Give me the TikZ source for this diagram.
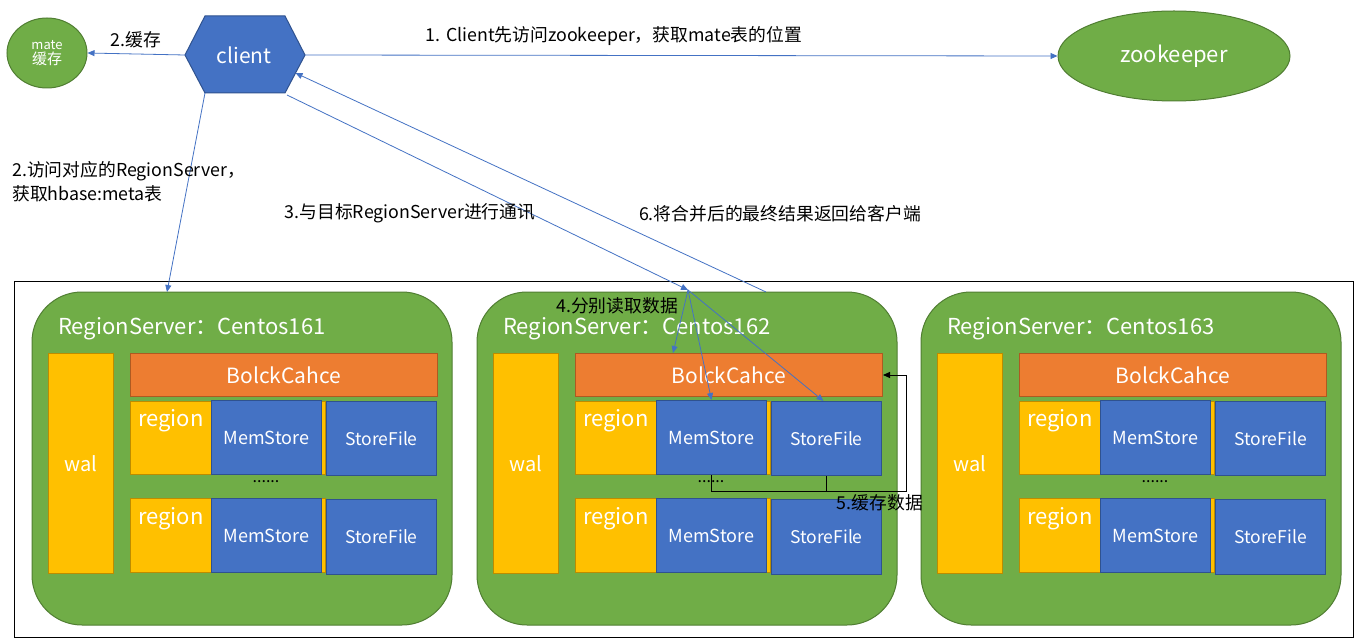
\documentclass[tikz,border=0pt]{standalone}
\usepackage{fontspec}
\setmainfont{Noto Sans CJK SC}
\usetikzlibrary{arrows.meta,shapes.geometric,calc}
\definecolor{gfill}{HTML}{70AD47}
\definecolor{gline}{HTML}{507E32}
\definecolor{ofill}{HTML}{ED7D31}
\definecolor{oline}{HTML}{AE5A21}
\definecolor{bfill}{HTML}{4472C4}
\definecolor{bline}{HTML}{2F528F}
\definecolor{yfill}{HTML}{FFC000}
\definecolor{yline}{HTML}{BC8C00}
\begin{document}
\begin{tikzpicture}[x=1pt,y=-1pt,
  fs/.style={font=\fontsize{#1}{#1}\selectfont},
  lbl/.style={fs=17.8,text=black,inner sep=0pt},
  wtxt/.style={text=white,inner sep=0pt},
  arr/.style={draw=bfill,line width=0.8pt,-{Triangle[length=7pt,width=6pt]}},
  blk/.style={draw=black,line width=1pt},
  gbox/.style={draw=gline,fill=gfill,line width=1pt,rounded corners=50pt},
  obox/.style={draw=oline,fill=ofill,line width=1pt,anchor=north west,inner sep=0pt},
  bbox/.style={draw=bline,fill=bfill,line width=1pt,anchor=north west,inner sep=0pt},
  ybox/.style={draw=yline,fill=yfill,line width=1pt,anchor=north west,inner sep=0pt},
]
\useasboundingbox (0,0) rectangle (1354,639);
\fill[white] (0,0) rectangle (1354,639);
% outer frame
\draw[line width=1pt] (14,281) rectangle (1353,637);
% mate
\node[ellipse,draw=gline,fill=gfill,line width=1pt,minimum width=80pt,minimum height=70pt,wtxt,align=center,fs=13] (mate) at (47,53) {mate\\[2pt]{\fontsize{15}{15}\selectfont 缓存}};
% zookeeper
\node[ellipse,draw=gline,fill=gfill,line width=1pt,minimum width=232pt,minimum height=90pt,wtxt,fs=22] (zk) at (1174,56) {zookeeper};
% client hexagon
\coordinate (cL) at (185,55);
\coordinate (cTL) at (205,16);
\coordinate (cTR) at (285,16);
\coordinate (cR) at (305,55);
\coordinate (cBR) at (285,93);
\coordinate (cBL) at (205,93);
\draw[draw=bline,fill=bfill,line width=1pt] (cL) -- (cTL) -- (cTR) -- (cR) -- (cBR) -- (cBL) -- cycle;
\node[wtxt,fs=21] (client) at (244,55) {client};
% region servers
\foreach \i/\dx in {1/0,2/445,3/889}{
\begin{scope}[xshift=\dx pt]
  \draw[gbox] (32,292) rectangle (452,625);
  \node[wtxt,fs=22,anchor=west] (title\i) at (58,329) {RegionServer：Centos16\i};
  \node[ybox,minimum width=65pt,minimum height=220pt] (wal\i) at (48,353) {};
  \node[wtxt,fs=20] at (wal\i.center) {wal};
  \node[obox,minimum width=307pt,minimum height=43pt,wtxt,fs=21] (bc\i) at (130,353) {BolckCahce};
  \node[ybox,minimum width=195pt,minimum height=73pt] (ra\i) at (130,401) {};
  \node[wtxt,fs=22] at (171,421) {region};
  \node[bbox,minimum width=110pt,minimum height=74pt,wtxt,fs=18] (ma\i) at (211,400) {MemStore};
  \node[bbox,minimum width=110pt,minimum height=74pt,wtxt,fs=17.5] (sa\i) at (326,401) {StoreFile};
  \node[fs=16,inner sep=0pt] (dots\i) at (266,482) {......};
  \node[ybox,minimum width=195pt,minimum height=74pt] (rb\i) at (130,498) {};
  \node[wtxt,fs=22] at (171,519) {region};
  \node[bbox,minimum width=110pt,minimum height=74pt,wtxt,fs=18] (mb\i) at (211,498) {MemStore};
  \node[bbox,minimum width=110pt,minimum height=75pt,wtxt,fs=17.5] (sb\i) at (326,499) {StoreFile};
\end{scope}
}
% connectors
\draw[arr] (cL) -- (mate.east);
\node[lbl] (l2a) at (136,40) {2.缓存};
\draw[arr] (cR) -- (zk.west);
\node[lbl] (l1) at (614,36) {1. Client先访问zookeeper，获取mate表的位置};
\coordinate (rs1top) at (167,292);
\draw[arr] (cBL) -- (rs1top);
\node[lbl,anchor=north west,align=left] (l2b) at (12,161) {2.访问对应的RegionServer，\\[4pt]获取hbase:meta表};
\coordinate (cout) at (287,95);
\coordinate (hub) at (688,290);
\draw[arr] (cout) -- (hub);
\node[lbl] (l3) at (410,213) {3.与目标RegionServer进行通讯};
\coordinate (ret) at (766,292);
\coordinate (cin) at (295.5,73);
\draw[arr] (ret) -- (cin);
\node[lbl] (l6) at (780,214) {6.将合并后的最终结果返回给客户端};
\draw[arr] (hub) -- ($(bc2.north west)+(98,0)$);
\draw[arr] (hub) -- (ma2.north);
\draw[arr] (hub) -- ($(sa2.north)+(-3,0)$);
\node[lbl] (l4) at (617,306) {4.分别读取数据};
\coordinate (loop) at (906,491);
\draw[blk,-{Triangle[length=7pt,width=6pt]}] (ma2.south) |- (loop) |- (bc2.east);
\draw[blk] (sa2.south) -- (sa2.south |- loop);
\node[lbl] (l5) at (880,503) {5.缓存数据};
\end{tikzpicture}
\end{document}
